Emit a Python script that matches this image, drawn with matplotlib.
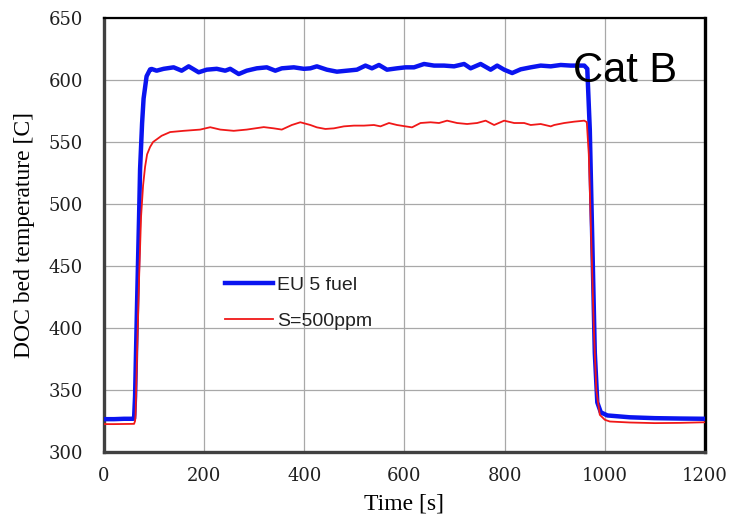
import matplotlib
matplotlib.use('Agg')
import matplotlib.pyplot as plt

# EU 5 fuel trace (time [s], DOC bed temperature [C])
time_eu = [0, 20, 40, 58, 60, 62, 66, 70, 72, 76, 79, 85, 92, 95, 105, 119, 139, 155,
           169, 189, 205, 225, 242, 252, 269, 285, 305, 325, 342, 355, 379, 399,
           412, 425, 445, 465, 485, 505, 522, 535, 549, 565, 585, 602, 619, 639,
           659, 679, 699, 719, 732, 752, 772, 785, 799, 815, 832, 852, 872, 892,
           912, 932, 959, 965, 970, 975, 980, 985, 992, 1005, 1050, 1100, 1150, 1200]
temp_eu = [326.5, 326.5, 326.8, 326.8, 327, 345, 420, 490, 528, 565, 585, 603, 608.5,
           608.9, 607.5, 609, 610.2, 607.5, 611, 606.2, 608.3, 609, 607.5, 609,
           604.8, 607.5, 609.4, 610.2, 607.5, 609.4, 610.2, 609, 609.4, 611,
           608.3, 606.7, 607.5, 608.3, 611.6, 609.4, 612.1, 608.3, 609.4, 610.2,
           610.2, 612.9, 611.6, 611.6, 611, 612.9, 609.4, 612.9, 608.3, 611.6,
           608.3, 605.6, 608.6, 610.2, 611.6, 611, 612.1, 611.6, 611.6, 609,
           560, 470, 380, 340, 332, 329.5, 328, 327.3, 327, 326.8]

# S=500ppm trace
time_s = [0, 20, 40, 60, 62, 63, 66, 70, 74, 78, 82, 86, 92, 98, 115, 132, 159, 192,
          212, 232, 259, 285, 319, 339, 355, 375, 392, 412, 425, 442, 459, 479,
          499, 519, 539, 552, 569, 585, 602, 615, 632, 652, 669, 685, 705, 725,
          745, 762, 779, 799, 819, 839, 852, 872, 892, 899, 919, 939, 959, 964,
          968, 973, 978, 983, 990, 1000, 1010, 1050, 1100, 1150, 1200]
temp_s = [322.5, 322.5, 322.6, 322.7, 325, 330, 380, 440, 490, 515, 530, 540, 546,
          550, 555, 558, 559, 560, 561.9, 560, 559, 560, 562, 561, 560, 563.7,
          565.9, 563.7, 561.8, 560.5, 561, 562.6, 563.2, 563.2, 563.7, 562.6,
          565.3, 563.7, 562.6, 561.8, 565.3, 565.9, 565.3, 567.2, 565.3, 564.5,
          565.3, 567.2, 563.7, 567.2, 565.3, 565.3, 563.7, 564.5, 562.6, 563.7,
          565.3, 566.4, 567.2, 566, 540, 470, 400, 350, 330, 326, 324.6, 323.8,
          323.3, 323.5, 324]

x_ticks = [0, 200, 400, 600, 800, 1000, 1200]
y_ticks = [300, 350, 400, 450, 500, 550, 600, 650]

fig = plt.figure(figsize=(7.31, 5.21), dpi=100)
ax = fig.add_axes([0.1423, 0.1324, 0.8221, 0.8331])

ax.plot(time_eu, temp_eu, color='#0a14f0', linewidth=3.2, label='EU 5 fuel', zorder=3)
ax.plot(time_s, temp_s, color='#f01818', linewidth=1.3, label='S=500ppm', zorder=3)

ax.set_xlim(0, 1200)
ax.set_ylim(300, 650)
ax.set_xticks(x_ticks)
ax.set_yticks(y_ticks)
ax.grid(True, color='#a8a8a8', linewidth=0.9, zorder=0)
ax.set_axisbelow(True)

ax.tick_params(axis='both', length=0, labelsize=13)
ax.tick_params(axis='y', pad=15)
ax.tick_params(axis='x', pad=11)
for lab in ax.get_xticklabels() + ax.get_yticklabels():
    lab.set_fontfamily('DejaVu Serif')
    lab.set_color('#202020')

ax.spines['left'].set_color('#404040')
ax.spines['left'].set_linewidth(2.4)
ax.spines['bottom'].set_color('#404040')
ax.spines['bottom'].set_linewidth(2.4)
ax.spines['right'].set_color('black')
ax.spines['right'].set_linewidth(2.4)
ax.spines['top'].set_color('black')
ax.spines['top'].set_linewidth(1.6)

ax.set_xlabel('Time [s]', fontfamily='Liberation Serif', fontsize=17, labelpad=6)
ax.set_ylabel('DOC bed temperature [C]', fontfamily='Liberation Serif', fontsize=17, labelpad=10)

leg = ax.legend(loc='upper left', bbox_to_anchor=(0.2013, 0.405), frameon=False,
                prop={'family': 'Liberation Sans', 'size': 14},
                borderpad=0, borderaxespad=0, handlelength=2.47,
                handletextpad=0.2, labelspacing=0.95)
for t in leg.get_texts():
    t.set_color('#222222')

ax.text(0.780, 0.853, 'Cat B', transform=ax.transAxes, fontsize=30,
        fontfamily='Liberation Sans', va='baseline', ha='left', zorder=5)

fig.savefig('out.png', dpi=100)
